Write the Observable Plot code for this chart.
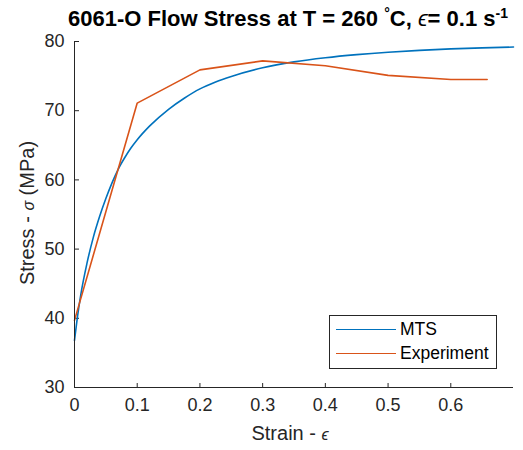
<!DOCTYPE html>
<html><head><meta charset="utf-8">
<script src="https://cdn.jsdelivr.net/npm/d3@7"></script>
<script src="https://cdn.jsdelivr.net/npm/@observablehq/plot@0.6"></script>
<style>
body{margin:0;background:#fff;font-family:"Liberation Sans",Arial,sans-serif;}
#wrap{position:relative;width:523px;height:450px;overflow:hidden;}
.lbl{position:absolute;white-space:nowrap;color:#262626;}
#title{left:288px;top:6px;transform:translateX(-50%);font-weight:bold;font-size:22px;color:#000;line-height:25px;}
#title sup{font-size:14px;line-height:0;}
#xlabel{left:290px;top:422px;transform:translateX(-50%);font-size:20px;}
#ylabel{left:27px;top:213px;transform:translate(-50%,-50%) rotate(-90deg);font-size:20px;}
#legend{position:absolute;left:329px;top:315px;width:166px;height:52px;border:1px solid #262626;background:#fff;}
.lrow{position:absolute;left:6px;height:20px;font-size:17.5px;color:#000;display:flex;align-items:center;}
.lrow span.sw{display:inline-block;width:60px;height:0;border-top:1.5px solid;margin-right:4px;}
</style></head><body><div id="wrap"></div>
<script>
const xTicks = [0, 0.1, 0.2, 0.3, 0.4, 0.5, 0.6];
const yTicks = [30, 40, 50, 60, 70, 80];
const seriesNames = ["MTS", "Experiment"];
const seriesColors = ["#0072BD", "#D95319"];
const mtsStrain = [0, 0.005, 0.01, 0.02, 0.03, 0.04, 0.05, 0.06, 0.07, 0.08, 0.09, 0.1, 0.12, 0.15, 0.175, 0.2, 0.225, 0.25, 0.3, 0.35, 0.4, 0.45, 0.5, 0.55, 0.6, 0.65, 0.7];
const mtsStress = [36.8, 40.4, 43.4, 48.0, 51.7, 54.7, 57.3, 59.6, 61.6, 63.2, 64.6, 65.8, 67.8, 70.2, 71.8, 73.15, 74.15, 74.95, 76.2, 77.05, 77.65, 78.1, 78.45, 78.72, 78.93, 79.08, 79.2];
const expStrain = [0, 0.1, 0.2, 0.3, 0.4, 0.5, 0.6, 0.658];
const expStress = [39.7, 71.1, 75.9, 77.2, 76.5, 75.1, 74.5, 74.5];

const W = 523, H = 450, mL = 74, mR = 10, mT = 41, mB = 63;
const frameH = H - mT - mB, frameW = W - mL - mR;
const mts = mtsStrain.map((x, i) => ({x, y: mtsStress[i]}));
const exp = expStrain.map((x, i) => ({x, y: expStress[i]}));
const axisColor = "#262626";

const chart = Plot.plot({
  width: W, height: H,
  marginLeft: mL, marginRight: mR, marginTop: mT, marginBottom: mB,
  style: {fontFamily: '"Liberation Sans", Arial, sans-serif', fontSize: "18px", color: axisColor, background: "#fff"},
  x: {domain: [0, 0.7]},
  y: {domain: [30, 80]},
  marks: [
    Plot.axisX({ticks: xTicks, tickSize: 0, tickPadding: 11, label: null, tickFormat: d => String(d)}),
    Plot.axisY({ticks: yTicks, tickSize: 0, tickPadding: 10, label: null}),
    Plot.ruleX(xTicks, {x: d => d, insetTop: frameH - 4, stroke: axisColor}),
    Plot.ruleY(yTicks, {y: d => d, insetRight: frameW - 5, stroke: axisColor}),
    Plot.line(mts, {x: "x", y: "y", stroke: seriesColors[0], strokeWidth: 1.6, curve: "monotone-x"}),
    Plot.line(exp, {x: "x", y: "y", stroke: seriesColors[1], strokeWidth: 1.6}),
    Plot.ruleX([0], {stroke: axisColor}),
    Plot.ruleY([30], {stroke: axisColor})
  ]
});
const wrap = document.getElementById("wrap");
wrap.appendChild(chart);

const title = document.createElement("div");
title.className = "lbl"; title.id = "title";
title.innerHTML = '6061-O Flow Stress at T = 260 <sup>°</sup>C, <span style="font-weight:normal;font-style:italic">ϵ</span>= 0.1 s<sup>-1</sup>';
wrap.appendChild(title);
const xl = document.createElement("div");
xl.className = "lbl"; xl.id = "xlabel";
xl.innerHTML = 'Strain - <span style="font-style:italic;font-size:16px">ϵ</span>';
wrap.appendChild(xl);
const yl = document.createElement("div");
yl.className = "lbl"; yl.id = "ylabel";
yl.innerHTML = 'Stress - <span style="font-style:italic;font-size:16px">σ</span> (MPa)';
wrap.appendChild(yl);
const leg = document.createElement("div");
leg.id = "legend";
seriesNames.forEach((n, i) => {
  const r = document.createElement("div");
  r.className = "lrow";
  r.style.top = (3 + i * 24) + "px";
  r.innerHTML = `<span class="sw" style="border-color:${seriesColors[i]}"></span>${n}`;
  leg.appendChild(r);
});
wrap.appendChild(leg);
</script></body></html>
